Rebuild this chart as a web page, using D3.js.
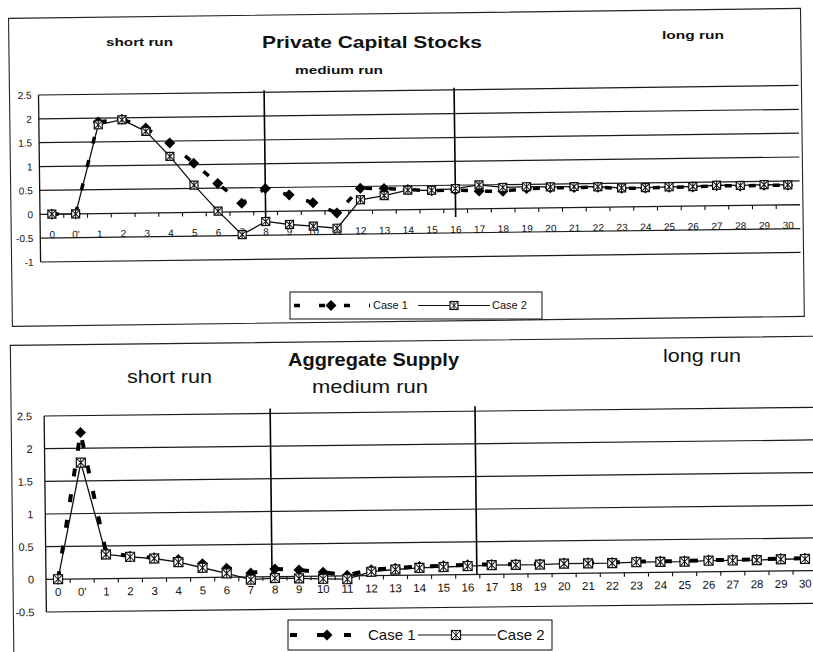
<!DOCTYPE html>
<html><head><meta charset="utf-8">
<script src="https://cdn.jsdelivr.net/npm/d3@7/dist/d3.min.js"></script>
<style>
body{margin:0;background:#fff}
svg{display:block}
text{font-family:"Liberation Sans",Arial,sans-serif;fill:#111}
</style>
</head><body>
<svg id="chart" width="813" height="652"></svg>
<script>
// ---------------- data ----------------
const categories = ["0","0'","1","2","3","4","5","6","7","8","9","10","11","12","13","14","15",
  "16","17","18","19","20","21","22","23","24","25","26","27","28","29","30"];
const seriesNames = ["Case 1", "Case 2"];

// Private Capital Stocks
const capCase1 = [0, 0, 1.92, 1.97, 1.78, 1.46, 1.03, 0.60, 0.18, 0.48, 0.34, 0.17, -0.05, 0.46, 0.45, 0.42,
  0.39, 0.40, 0.37, 0.36, 0.41, 0.42, 0.42, 0.42, 0.39, 0.39, 0.40, 0.40, 0.42, 0.41, 0.42, 0.41];
const capCase2 = [0, 0, 1.86, 1.96, 1.71, 1.18, 0.57, 0.02, -0.48, -0.21, -0.28, -0.32, -0.37, 0.22, 0.30, 0.41,
  0.40, 0.43, 0.50, 0.44, 0.45, 0.44, 0.44, 0.43, 0.40, 0.40, 0.41, 0.41, 0.43, 0.42, 0.43, 0.42];
const capYTicks = [-1, -0.5, 0, 0.5, 1, 1.5, 2, 2.5];

// Aggregate Supply
const asCase1 = [0, 2.24, 0.40, 0.34, 0.31, 0.28, 0.21, 0.14, 0.06, 0.12, 0.10, 0.06, 0.01, 0.09, 0.11, 0.13,
  0.14, 0.15, 0.15, 0.15, 0.15, 0.16, 0.16, 0.16, 0.17, 0.17, 0.17, 0.18, 0.18, 0.18, 0.19, 0.19];
const asCase2 = [0, 1.78, 0.37, 0.33, 0.30, 0.24, 0.15, 0.06, -0.04, -0.02, -0.03, -0.04, -0.05, 0.06, 0.09, 0.11,
  0.12, 0.13, 0.14, 0.14, 0.14, 0.15, 0.15, 0.15, 0.16, 0.16, 0.16, 0.17, 0.17, 0.17, 0.18, 0.18];
const asYTicks = [-0.5, 0, 0.5, 1, 1.5, 2, 2.5];

// regime boundaries (category label + fractional band shift)
const capRegimeLines = [{cat: "8", shift: 0}, {cat: "16", shift: 0}];
const asRegimeLines = [{cat: "8", shift: -0.12}, {cat: "16", shift: 0.38}];

// ---------------- drawing ----------------
const svg = d3.select("#chart");
svg.append("rect").attr("width", 813).attr("height", 652).attr("fill", "#fff");

function case2Marker(sel, s) {
  const h = s / 2;
  sel.append("rect").attr("x", -h).attr("y", -h).attr("width", s).attr("height", s)
    .attr("fill", "#fff").attr("stroke", "#111").attr("stroke-width", 1.2);
  sel.append("path").attr("d", `M${-h},${-h}L${h},${h}M${-h},${h}L${h},${-h}M0,${-h}L0,${h}`)
    .attr("stroke", "#111").attr("stroke-width", 1);
}
function case1Marker(sel, r) {
  sel.append("path").attr("d", `M0,${-r}L${r},0L0,${r}L${-r},0Z`).attr("fill", "#000");
}

function drawPanel(cfg) {
  const x = d3.scaleBand().domain(categories)
    .range([cfg.left, cfg.left + cfg.step * categories.length]).padding(0);
  const cx = c => x(c) + x.bandwidth() / 2;
  const y = d3.scaleLinear().domain(cfg.yDomain).range([cfg.bottom, cfg.top]);
  const y0 = y(0);

  const g = svg.append("g").attr("transform", `rotate(${-cfg.tilt},${cfg.left},${y0})`);

  // frame
  g.append("rect").attr("x", cfg.frame[0]).attr("y", cfg.frame[1])
    .attr("width", cfg.frame[2]).attr("height", cfg.frame[3])
    .attr("fill", "none").attr("stroke", "#222").attr("stroke-width", 1.1);

  const right = cfg.left + cfg.step * categories.length;
  // gridlines
  g.append("g").selectAll("line").data(cfg.yTicks).join("line")
    .attr("x1", cfg.left).attr("x2", right)
    .attr("y1", d => y(d)).attr("y2", d => y(d))
    .attr("stroke", "#1a1a1a").attr("stroke-width", d => d === 0 ? 1.3 : 1.2);

  // left axis line
  g.append("line").attr("x1", cfg.left).attr("x2", cfg.left)
    .attr("y1", y(cfg.yDomain[1])).attr("y2", y(cfg.yDomain[0]))
    .attr("stroke", "#111").attr("stroke-width", 1.3);

  // y labels
  const ya = g.append("g").attr("transform", `translate(${cfg.left},0)`)
    .call(d3.axisLeft(y).tickValues(cfg.yTicks).tickSize(0)
      .tickPadding(cfg.left - cfg.yLabRight).tickFormat(d => String(d)));
  ya.select(".domain").remove();
  ya.selectAll("text").attr("font-size", cfg.yFont).attr("fill", "#111")
    .style("font-family", '"Liberation Sans",Arial,sans-serif');

  // category tick marks at band boundaries
  g.append("g").selectAll("line").data(categories.slice(1)).join("line")
    .attr("x1", d => x(d)).attr("x2", d => x(d))
    .attr("y1", y0).attr("y2", y0 + 4).attr("stroke", "#111").attr("stroke-width", 1.1);

  // x labels
  const xa = g.append("g").attr("transform", `translate(0,${cfg.xLabTop})`)
    .call(d3.axisBottom(x).tickSize(0).tickPadding(0));
  xa.select(".domain").remove();
  xa.selectAll("text").attr("font-size", cfg.xFont).attr("fill", "#111")
    .style("font-family", '"Liberation Sans",Arial,sans-serif');

  // regime lines
  g.append("g").selectAll("line").data(cfg.regime).join("line")
    .attr("x1", d => cx(d.cat) + d.shift * x.bandwidth())
    .attr("x2", d => cx(d.cat) + d.shift * x.bandwidth())
    .attr("y1", y(cfg.yDomain[1]) - cfg.vExtraTop).attr("y2", y0 + cfg.vExtraBottom)
    .attr("stroke", "#000").attr("stroke-width", 1.6);

  // Case 2 line
  const line = d3.line().x((d, i) => cx(categories[i])).y(d => y(d));
  g.append("path").datum(cfg.case2).attr("d", line)
    .attr("fill", "none").attr("stroke", "#111").attr("stroke-width", 1.3);
  // Case 1 dashed line
  g.append("path").datum(cfg.case1).attr("d", line)
    .attr("fill", "none").attr("stroke", "#000").attr("stroke-width", cfg.dashW)
    .attr("stroke-dasharray", cfg.dash);
  // Case 1 markers
  g.append("g").selectAll("g").data(cfg.case1).join("g")
    .attr("transform", (d, i) => `translate(${cx(categories[i])},${y(d)})`)
    .each(function () { case1Marker(d3.select(this), cfg.diamond); });
  // Case 2 markers
  g.append("g").selectAll("g").data(cfg.case2).join("g")
    .attr("transform", (d, i) => `translate(${cx(categories[i])},${y(d)})`)
    .each(function () { case2Marker(d3.select(this), cfg.square); });

  // titles (image coordinates, not tilted)
  cfg.texts.forEach(t => {
    svg.append("text").attr("x", t.x).attr("y", t.y).text(t.s)
      .attr("font-size", t.size).attr("font-weight", t.bold ? "bold" : "normal")
      .attr("textLength", t.w).attr("lengthAdjust", "spacingAndGlyphs");
  });

  // legend
  const L = cfg.legend;
  const lg = svg.append("g");
  lg.append("rect").attr("x", L.x).attr("y", L.y).attr("width", L.w).attr("height", L.h)
    .attr("fill", "#fff").attr("stroke", "#222").attr("stroke-width", 1.1);
  const ly = L.y + L.h / 2;
  lg.append("line").attr("x1", L.c1[0]).attr("x2", L.c1[1]).attr("y1", ly).attr("y2", ly)
    .attr("stroke", "#000").attr("stroke-width", cfg.dashW).attr("stroke-dasharray", L.dash);
  case1Marker(lg.append("g").attr("transform", `translate(${L.c1[2]},${ly})`), cfg.diamond);
  lg.append("text").attr("x", L.c1[3]).attr("y", ly).attr("dy", "0.36em")
    .attr("font-size", L.font).text(seriesNames[0]);
  lg.append("line").attr("x1", L.c2[0]).attr("x2", L.c2[1]).attr("y1", ly).attr("y2", ly)
    .attr("stroke", "#111").attr("stroke-width", 1.1);
  case2Marker(lg.append("g").attr("transform", `translate(${L.c2[2]},${ly})`), cfg.square);
  lg.append("text").attr("x", L.c2[3]).attr("y", ly).attr("dy", "0.36em")
    .attr("font-size", L.font).text(seriesNames[1]);
}

drawPanel({
  left: 40, step: 23.75, top: 95, bottom: 262, yDomain: [-1, 2.5], yTicks: capYTicks,
  tilt: 0.72, frame: [11, 18, 792, 308],
  yLabRight: 33, yFont: 10, xLabTop: 231, xFont: 10,
  regime: capRegimeLines, vExtraTop: 2, vExtraBottom: 8,
  case1: capCase1, case2: capCase2, dashW: 3.5, dash: "7,17", diamond: 5.5, square: 8,
  texts: [
    {s: "Private Capital Stocks", x: 262, y: 48, size: 17, bold: true, w: 220},
    {s: "short run", x: 106, y: 46, size: 10, bold: true, w: 67},
    {s: "long run", x: 662, y: 39, size: 10, bold: true, w: 62},
    {s: "medium run", x: 295, y: 74, size: 10, bold: true, w: 88}
  ],
  legend: {x: 290, y: 292, w: 252, h: 27, font: 11, dash: "6,19",
    c1: [294, 370, 331, 373], c2: [418, 490, 454, 492]}
});

drawPanel({
  left: 46, step: 24.1, top: 416, bottom: 612, yDomain: [-0.5, 2.5], yTicks: asYTicks,
  tilt: 0.65, frame: [13, 345, 900, 400],
  yLabRight: 34, yFont: 11, xLabTop: 588, xFont: 11.5,
  regime: asRegimeLines, vExtraTop: 5, vExtraBottom: 0,
  case1: asCase1, case2: asCase2, dashW: 4, dash: "8,18", diamond: 5.5, square: 9,
  texts: [
    {s: "Aggregate Supply", x: 288, y: 366, size: 19, bold: true, w: 171},
    {s: "medium run", x: 312, y: 393, size: 19, bold: false, w: 116},
    {s: "short run", x: 127, y: 383, size: 19, bold: false, w: 85},
    {s: "long run", x: 663, y: 362, size: 19, bold: false, w: 78}
  ],
  legend: {x: 288, y: 620, w: 264, h: 30, font: 15, dash: "7,20",
    c1: [290, 365, 327, 368], c2: [418, 496, 456, 497]}
});
</script>
</body></html>
